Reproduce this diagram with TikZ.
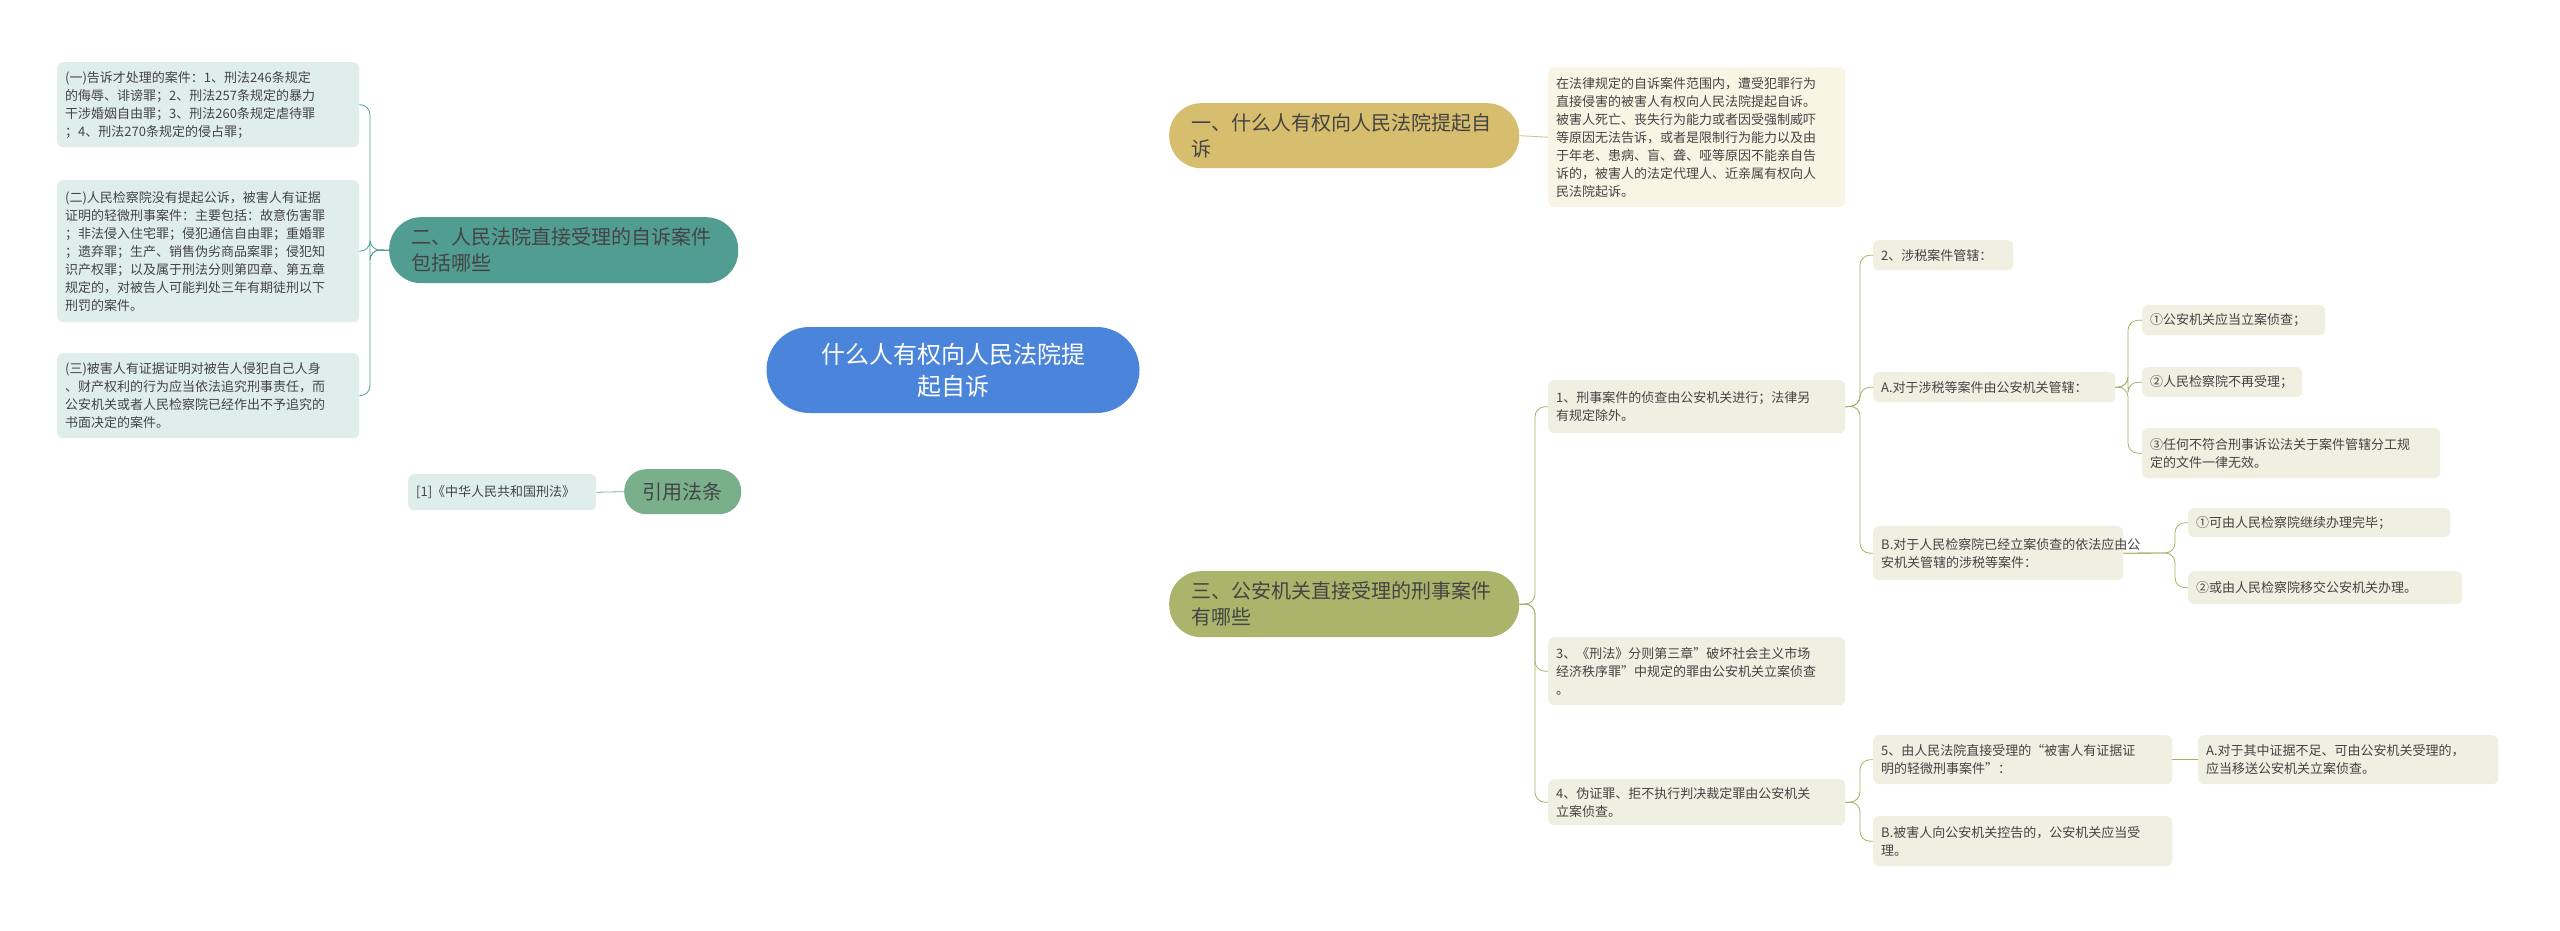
\documentclass[tikz,border=0pt]{standalone}
\usepackage{fontspec}
\setmainfont{Noto Sans CJK SC}
\definecolor{cblue}{HTML}{4A84DB}
\definecolor{cgold}{HTML}{D6BE6E}
\definecolor{colive}{HTML}{AAB56B}
\definecolor{cteal}{HTML}{519D91}
\definecolor{cgreen}{HTML}{79B08B}
\definecolor{lgold}{HTML}{CDBF7C}
\definecolor{lolive}{HTML}{A6AF65}
\definecolor{fcream}{HTML}{F8F5E4}
\definecolor{fgray}{HTML}{EFEFE2}
\definecolor{fteal}{HTML}{E0EEEB}
\definecolor{txt}{HTML}{444444}
\pgfdeclarelayer{bg}\pgfsetlayers{bg,main}
\tikzset{
 box/.style={rectangle,rounded corners=6pt,inner xsep=8pt,inner ysep=4pt,align=left,font=\fontsize{13}{18}\selectfont,text=txt,anchor=north west},
 rleaf/.style={box,fill=fgray},
 lleaf/.style={box,fill=fteal},
 br/.style={rectangle,rounded corners=32pt,align=left,font=\fontsize{20}{26}\selectfont,inner xsep=22pt,anchor=north west},
 cn/.style={thick,rounded corners=10pt}
}
\begin{document}
\begin{tikzpicture}[x=1pt,y=-1pt]
\useasboundingbox (0,0) rectangle (2560,931);
\fill[white] (0,0) rectangle (2560,931);
% center
\node[rectangle,rounded corners=43pt,fill=cblue,text=white,minimum width=373,minimum height=86,align=center,font=\fontsize{24}{32}\selectfont] (c) at (953,370) {什么人有权向人民法院提\\起自诉};
% branches
\node[br,fill=cgold,text=txt,minimum width=350,minimum height=65,text width=306] (b1) at (1169,103) {一、什么人有权向人民法院提起自\\诉};
\node[br,fill=colive,text=txt,minimum width=350,minimum height=66,text width=306] (b3) at (1169,571) {三、公安机关直接受理的刑事案件\\有哪些};
\node[br,fill=cteal,text=txt,minimum width=349,minimum height=66,text width=305] (b2) at (389,217) {二、人民法院直接受理的自诉案件\\包括哪些};
\node[br,fill=cgreen,text=txt,minimum width=117,minimum height=45,rounded corners=22pt,align=center,inner xsep=10pt] (b4) at (624,469) {引用法条};
% right leaves
\node[box,fill=fcream,text width=281,minimum height=140] (r1) at (1548,67) {在法律规定的自诉案件范围内，遭受犯罪行为\\直接侵害的被害人有权向人民法院提起自诉。\\被害人死亡、丧失行为能力或者因受强制威吓\\等原因无法告诉，或者是限制行为能力以及由\\于年老、患病、盲、聋、哑等原因不能亲自告\\诉的，被害人的法定代理人、近亲属有权向人\\民法院起诉。};
\node[rleaf,text width=281,minimum height=53] (k1) at (1548,380) {1、刑事案件的侦查由公安机关进行；法律另\\有规定除外。};
\node[rleaf,text width=281,minimum height=68] (k2) at (1548,637) {3、《刑法》分则第三章"破坏社会主义市场\\经济秩序罪"中规定的罪由公安机关立案侦查\\。};
\node[rleaf,text width=281,minimum height=46] (k3) at (1548,779) {4、伪证罪、拒不执行判决裁定罪由公安机关\\立案侦查。};
\node[rleaf,text width=124,minimum height=30] (m1) at (1873,240) {2、涉税案件管辖：};
\node[rleaf,text width=226,minimum height=30] (m2) at (1873,372) {A.对于涉税等案件由公安机关管辖：};
\node[rleaf,text width=234,minimum height=54] (m3) at (1873,526) {B.对于人民检察院已经立案侦查的依法应由公\\安机关管辖的涉税等案件：};
\node[rleaf,text width=283,minimum height=49] (m4) at (1873,735) {5、由人民法院直接受理的“被害人有证据证\\明的轻微刑事案件”：};
\node[rleaf,text width=283,minimum height=50] (m5) at (1873,816) {B.被害人向公安机关控告的，公安机关应当受\\理。};
\node[rleaf,text width=167,minimum height=30] (n1) at (2142,305) {①公安机关应当立案侦查；};
\node[rleaf,text width=144,minimum height=30] (n2) at (2142,367) {②人民检察院不再受理；};
\node[rleaf,text width=282,minimum height=50] (n3) at (2142,428) {③任何不符合刑事诉讼法关于案件管辖分工规\\定的文件一律无效。};
\node[rleaf,text width=246,minimum height=29] (p1) at (2188,508) {①可由人民检察院继续办理完毕；};
\node[rleaf,text width=258,minimum height=33] (p2) at (2188,571) {②或由人民检察院移交公安机关办理。};
\node[rleaf,text width=284,minimum height=49] (q1) at (2198,735) {A.对于其中证据不足、可由公安机关受理的，\\应当移送公安机关立案侦查。};
% left leaves
\node[lleaf,text width=286,minimum height=85] (l1) at (57,62) {(一)告诉才处理的案件：1、刑法246条规定\\的侮辱、诽谤罪；2、刑法257条规定的暴力\\干涉婚姻自由罪；3、刑法260条规定虐待罪\\；4、刑法270条规定的侵占罪；};
\node[lleaf,text width=286,minimum height=142] (l2) at (57,180) {(二)人民检察院没有提起公诉，被害人有证据\\证明的轻微刑事案件：主要包括：故意伤害罪\\；非法侵入住宅罪；侵犯通信自由罪；重婚罪\\；遗弃罪；生产、销售伪劣商品案罪；侵犯知\\识产权罪；以及属于刑法分则第四章、第五章\\规定的，对被告人可能判处三年有期徒刑以下\\刑罚的案件。};
\node[lleaf,text width=286,minimum height=85] (l3) at (57,353) {(三)被害人有证据证明对被告人侵犯自己人身\\、财产权利的行为应当依法追究刑事责任，而\\公安机关或者人民检察院已经作出不予追究的\\书面决定的案件。};
\node[lleaf,text width=172,minimum height=36] (g1) at (408,474) {[1]《中华人民共和国刑法》};
\begin{pgfonlayer}{bg}
\draw[lgold,thick] (c.center) .. controls (975,150) and (1050,136) .. (b1.west);
\draw[lolive,thick] (c.center) .. controls (975,600) and (1050,604) .. (b3.west);
\draw[cteal,thick] (c.center) .. controls (930,270) and (820,250) .. (b2.east);
\draw[cgreen,thick] (c.center) .. controls (930,480) and (820,492) .. (b4.east);
\end{pgfonlayer}
\draw[lgold,thick] (b1.east) -- (r1.west);
\draw[cgreen,thick] (b4.west) -- (g1.east);
\foreach \t in {l1,l2,l3} \draw[cteal,cn] (b2.west) -- (370,250) |- (\t.east);
\foreach \t in {k1,k2,k3} \draw[lolive,cn] (b3.east) -- (1535,604) |- (\t.west);
\foreach \t in {m1,m2,m3} \draw[lolive,cn] (k1.east) -- (1860,406) |- (\t.west);
\foreach \t in {m4,m5} \draw[lolive,cn] (k3.east) -- (1860,802) |- (\t.west);
\foreach \t in {n1,n2,n3} \draw[lolive,cn] (m2.east) -- (2128,387) |- (\t.west);
\foreach \t in {p1,p2} \draw[lolive,cn] (m3.east) -- (2175,553) |- (\t.west);
\draw[lolive,thick] (m4.east) -- (q1.west);
\end{tikzpicture}
\end{document}
